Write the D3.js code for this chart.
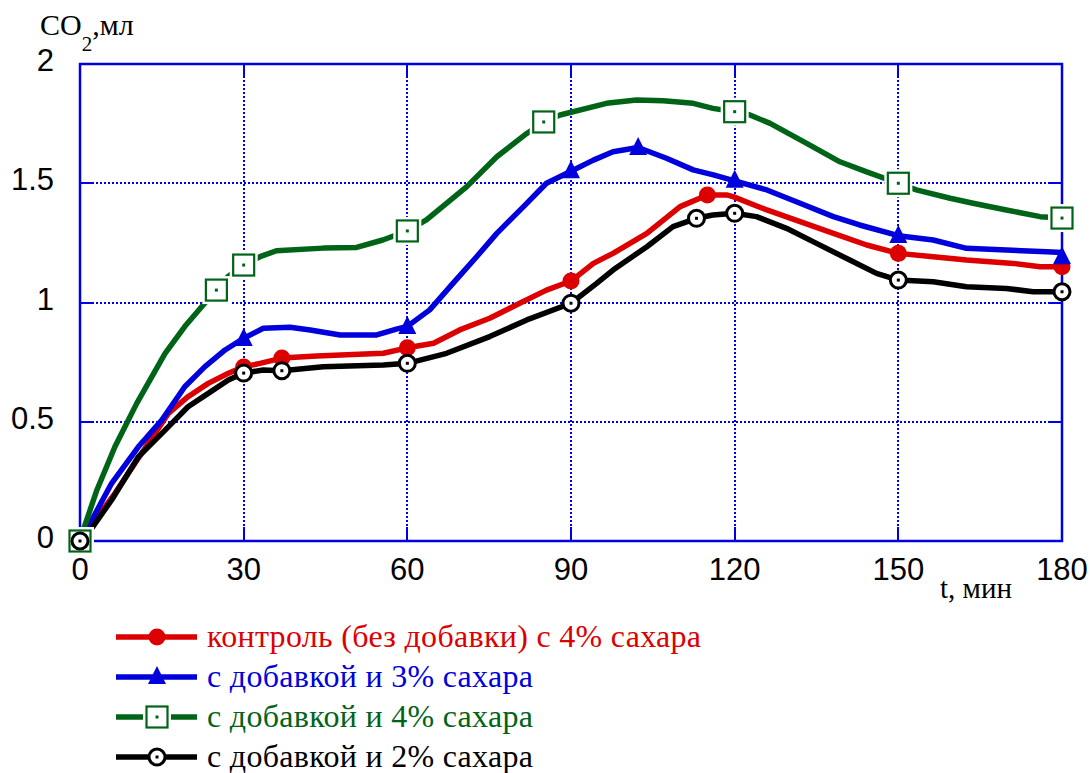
<!DOCTYPE html>
<html>
<head>
<meta charset="utf-8">
<script src="https://cdn.jsdelivr.net/npm/d3@7"></script>
<style>
  body { margin: 0; background: #fff; }
  svg { display: block; }
</style>
</head>
<body>
<div id="chart"></div>
<script>
// Curve samples [t (min), CO2 (ml)]
const redLine = [[0,0],[1.5,0.046],[6.4,0.2],[11.3,0.368],[16.2,0.535],[19.8,0.605],[23.5,0.661],[27.2,0.703],[30,0.73],[33,0.745],[37,0.767],[43.4,0.776],[55.6,0.787],[60,0.81],[64.8,0.829],[69.6,0.885],[75.1,0.934],[80.6,0.997],[85.5,1.052],[90,1.09],[94.1,1.164],[97.7,1.206],[103.9,1.29],[110,1.402],[115,1.451],[118.5,1.451],[119.7,1.444],[125.9,1.388],[132,1.339],[138.1,1.29],[144.2,1.241],[150,1.206],[156.4,1.192],[162.5,1.178],[171.1,1.164],[176,1.15],[180,1.15]];
const blueLine = [[0,0],[1.5,0.06],[5.8,0.242],[10.7,0.395],[15,0.507],[19.2,0.647],[22.9,0.731],[26.6,0.801],[30,0.85],[33.6,0.892],[38.5,0.896],[42.2,0.885],[47.7,0.864],[54.4,0.864],[58,0.888],[60,0.9],[64.1,0.969],[68.4,1.081],[72.7,1.192],[76.4,1.29],[81.3,1.402],[85.5,1.5],[90,1.55],[94.1,1.597],[97.7,1.632],[102.3,1.65],[107.5,1.605],[112.4,1.556],[116.1,1.535],[120,1.51],[125.9,1.472],[132,1.416],[138.1,1.36],[142.9,1.325],[150,1.28],[156.4,1.262],[162.5,1.227],[169.8,1.22],[177.2,1.213],[180,1.21]];
const greenLine = [[0,0],[0.6,0.046],[3.1,0.214],[6.4,0.395],[10.4,0.577],[15.6,0.787],[19.2,0.899],[22.3,0.982],[25,1.052],[27.1,1.108],[30,1.157],[33,1.192],[36,1.217],[44.6,1.228],[50.7,1.231],[55.5,1.262],[60,1.3],[63.5,1.346],[70.9,1.486],[76.4,1.611],[81.9,1.709],[85,1.757],[88,1.786],[96.5,1.835],[102,1.849],[106.9,1.846],[112.4,1.835],[116,1.814],[120,1.8],[122.8,1.786],[126.5,1.751],[133.2,1.667],[139.3,1.59],[144.2,1.548],[150,1.5],[153.3,1.472],[159.5,1.437],[163.7,1.416],[169.8,1.388],[176,1.36],[180,1.354]];
const blackLine = [[0,0],[1.5,0.032],[5.8,0.172],[10.7,0.353],[15.6,0.465],[19.8,0.563],[23.5,0.619],[27.2,0.675],[30,0.704],[33.6,0.717],[37,0.714],[44.6,0.731],[55.6,0.738],[60,0.745],[67.2,0.787],[75.1,0.857],[81.9,0.927],[90,0.997],[94.7,1.08],[97.7,1.136],[103.9,1.234],[108.7,1.318],[113,1.353],[116,1.367],[120,1.374],[124,1.36],[129.5,1.311],[135,1.248],[141.1,1.178],[146,1.122],[150,1.094],[156.4,1.087],[162.5,1.066],[169.8,1.059],[174.7,1.045],[180,1.045]];

// Marker positions
const redMarks = [[0,0],[30,0.73],[37,0.767],[60,0.81],[90,1.09],[115,1.451],[150,1.206],[180,1.15]];
const blueMarks = [[0,0],[30,0.847],[60,0.897],[90,1.55],[102.3,1.648],[120,1.51],[150,1.279],[180,1.19]];
const greenMarks = [[0,0],[25,1.052],[30,1.157],[60,1.3],[85,1.757],[120,1.8],[150,1.5],[180,1.354]];
const blackMarks = [[0,0],[30,0.704],[37,0.714],[60,0.745],[90,0.997],[113,1.353],[120,1.374],[150,1.094],[180,1.045]];

const xTicks = [0, 30, 60, 90, 120, 150, 180];
const yTicks = [0, 0.5, 1, 1.5, 2];
const yTickLabels = ["0", "0.5", "1", "1.5", "2"];
const legendLabels = [
  "контроль (без добавки) с 4% сахара",
  "с добавкой и 3% сахара",
  "с добавкой и 4% сахара",
  "с добавкой и 2% сахара"
];

const RED = "#dd0000", BLUE = "#0000dd", GREEN = "#006418", BLACK = "#000000";
const AXIS = "#0000e6";
const SERIF = "'Liberation Serif', 'Times New Roman', serif";
const SANS = "'Liberation Sans', Arial, sans-serif";

const width = 1090, height = 773;
const svg = d3.select("#chart").append("svg").attr("width", width).attr("height", height);

const x = d3.scaleLinear().domain([0, 180]).range([80, 1062]);
const y = d3.scaleLinear().domain([0, 2]).range([541, 64]);

// Dotted grid (snapped to whole pixels so the dots stay crisp)
const grid = svg.append("g");
xTicks.slice(1, -1).forEach(t => {
  const px = Math.round(x(t));
  grid.append("line").attr("x1", px).attr("x2", px).attr("y1", y(2)).attr("y2", y(0))
    .attr("stroke", AXIS).attr("stroke-width", 2).attr("stroke-dasharray", "2,2");
});
yTicks.slice(1, -1).forEach(v => {
  const py = Math.round(y(v));
  grid.append("line").attr("x1", x(0)).attr("x2", x(180)).attr("y1", py).attr("y2", py)
    .attr("stroke", AXIS).attr("stroke-width", 2).attr("stroke-dasharray", "2,2");
});

// Frame with inward ticks
svg.append("rect").attr("x", x(0)).attr("y", y(2)).attr("width", x(180) - x(0)).attr("height", y(0) - y(2))
  .attr("fill", "none").attr("stroke", AXIS).attr("stroke-width", 2.5);
const tickLen = 14;
xTicks.slice(1, -1).forEach(t => {
  const px = Math.round(x(t));
  svg.append("line").attr("x1", px).attr("x2", px).attr("y1", y(0)).attr("y2", y(0) - tickLen).attr("stroke", AXIS).attr("stroke-width", 2);
  svg.append("line").attr("x1", px).attr("x2", px).attr("y1", y(2)).attr("y2", y(2) + tickLen).attr("stroke", AXIS).attr("stroke-width", 2);
});
yTicks.slice(1, -1).forEach(v => {
  const py = Math.round(y(v));
  svg.append("line").attr("x1", x(0)).attr("x2", x(0) + tickLen).attr("y1", py).attr("y2", py).attr("stroke", AXIS).attr("stroke-width", 2);
  svg.append("line").attr("x1", x(180)).attr("x2", x(180) - tickLen).attr("y1", py).attr("y2", py).attr("stroke", AXIS).attr("stroke-width", 2);
});

// Tick labels
svg.append("g").selectAll("text").data(xTicks).join("text")
  .attr("x", d => x(d)).attr("y", 580).attr("text-anchor", "middle")
  .style("font-family", SANS).style("font-size", "31px").text(d => d);
svg.append("g").selectAll("text").data(yTicks).join("text")
  .attr("x", 54).attr("y", d => y(d) + 7).attr("text-anchor", "end")
  .style("font-family", SANS).style("font-size", "31px").text((d, i) => yTickLabels[i]);

// Axis titles
const yTitle = svg.append("text").attr("x", 40).attr("y", 35)
  .style("font-family", SERIF).style("font-size", "30px");
yTitle.append("tspan").text("CO");
yTitle.append("tspan").attr("dy", 16).style("font-size", "21px").text("2");
yTitle.append("tspan").attr("dy", -16).text(",мл");
svg.append("text").attr("x", 940).attr("y", 598)
  .style("font-family", SERIF).style("font-size", "29px").text("t, мин");

// Curves
const line = d3.line().x(d => x(d[0])).y(d => y(d[1]));
const series = [
  { data: redLine, marks: redMarks, color: RED, type: "dot" },
  { data: blueLine, marks: blueMarks, color: BLUE, type: "tri" },
  { data: greenLine, marks: greenMarks, color: GREEN, type: "square" },
  { data: blackLine, marks: blackMarks, color: BLACK, type: "ring" }
];

function drawMarker(g, cx, cy, type, color) {
  if (type === "dot") {
    g.append("circle").attr("cx", cx).attr("cy", cy).attr("r", 8.5).attr("fill", color);
  } else if (type === "tri") {
    g.append("path").attr("d", `M${cx},${cy - 11}L${cx + 9},${cy + 7}L${cx - 9},${cy + 7}Z`).attr("fill", color);
  } else if (type === "square") {
    g.append("rect").attr("x", cx - 14).attr("y", cy - 14).attr("width", 28).attr("height", 28).attr("fill", "#fff");
    g.append("rect").attr("x", cx - 10.5).attr("y", cy - 10.5).attr("width", 21).attr("height", 21)
      .attr("fill", "#fff").attr("stroke", color).attr("stroke-width", 2.2);
    g.append("rect").attr("x", cx - 1.5).attr("y", cy - 1.5).attr("width", 3).attr("height", 3).attr("fill", color);
  } else {
    g.append("circle").attr("cx", cx).attr("cy", cy).attr("r", 8).attr("fill", "#fff").attr("stroke", color).attr("stroke-width", 3);
    g.append("rect").attr("x", cx - 1.5).attr("y", cy - 1.5).attr("width", 3).attr("height", 3).attr("fill", color);
  }
}

series.forEach(s => {
  svg.append("path").datum(s.data).attr("d", line).attr("fill", "none")
    .attr("stroke", s.color).attr("stroke-width", 5.5).attr("stroke-linejoin", "round");
});
series.forEach(s => {
  const g = svg.append("g");
  s.marks.forEach(m => drawMarker(g, x(m[0]), y(m[1]), s.type, s.color));
});

// Legend
const legendY = [637, 677, 717, 757];
series.forEach((s, i) => {
  const g = svg.append("g");
  g.append("line").attr("x1", 116).attr("x2", 197).attr("y1", legendY[i]).attr("y2", legendY[i])
    .attr("stroke", s.color).attr("stroke-width", 5.5);
  drawMarker(g, 157, legendY[i], s.type, s.color);
  g.append("text").attr("x", 207).attr("y", legendY[i] + 10)
    .style("font-family", SERIF).style("font-size", "32px").style("letter-spacing", "0.3px")
    .attr("fill", s.color).text(legendLabels[i]);
});
</script>
</body>
</html>
